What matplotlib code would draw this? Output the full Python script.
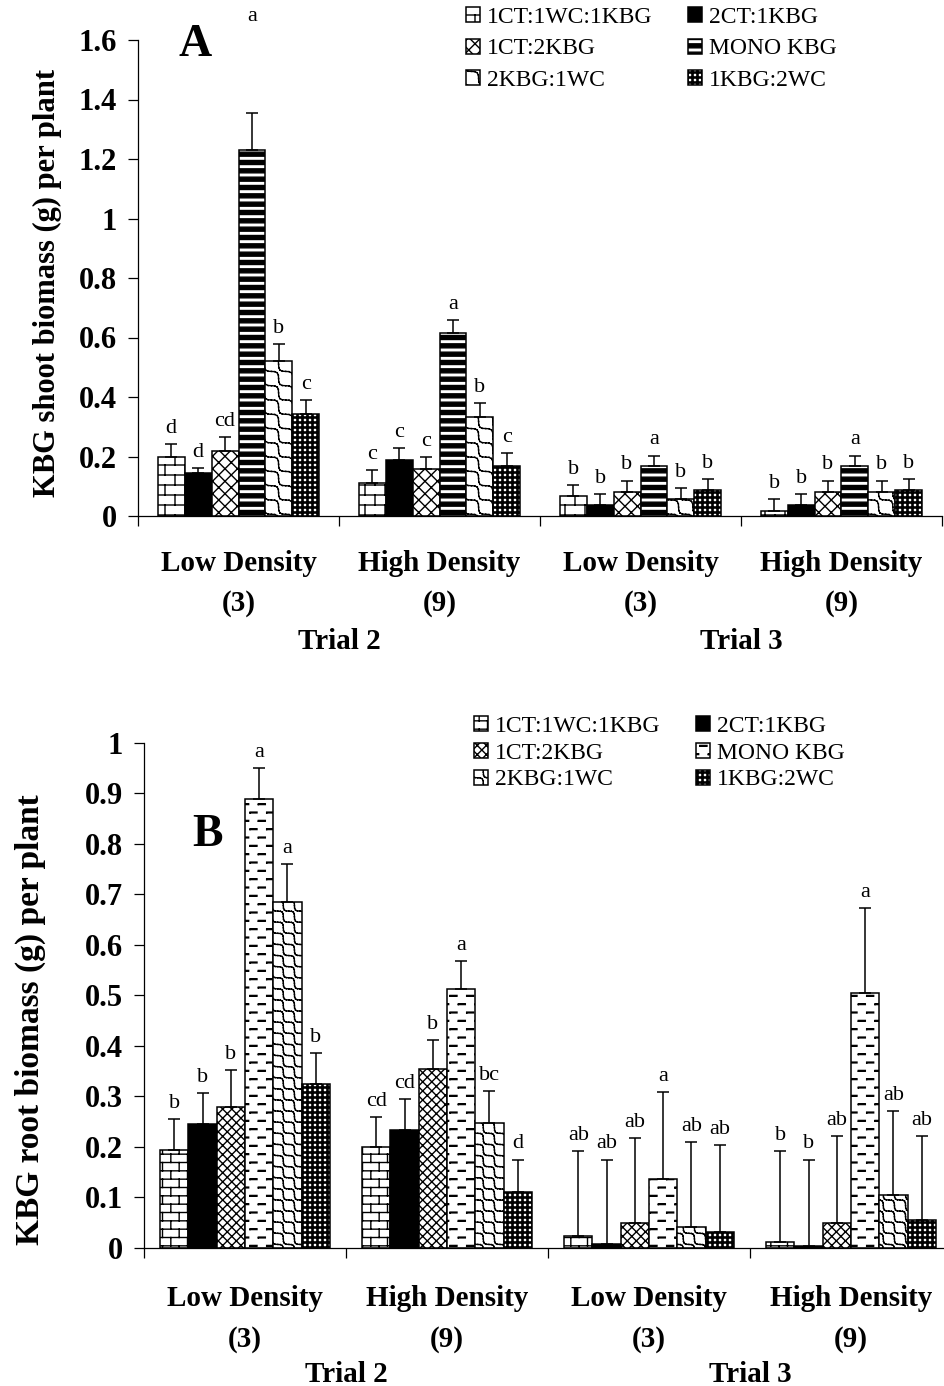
import numpy as np
import matplotlib
matplotlib.use("Agg")
import matplotlib.pyplot as plt
from matplotlib import hatch as mhatch
from matplotlib.path import Path

plt.rcParams["font.family"] = ["Liberation Serif", "DejaVu Serif"]
plt.rcParams["hatch.linewidth"] = 1.0

GROUPS = [("Low Density", "(3)"), ("High Density", "(9)"),
          ("Low Density", "(3)"), ("High Density", "(9)")]
TRIALS = ["Trial 2", "Trial 3"]
SERIES = ["1CT:1WC:1KBG", "2CT:1KBG", "1CT:2KBG", "MONO KBG", "2KBG:1WC", "1KBG:2WC"]

# rows follow SERIES, columns follow GROUPS
shoot_mean = [
    [0.200, 0.112, 0.068, 0.018],
    [0.143, 0.188, 0.037, 0.037],
    [0.218, 0.157, 0.080, 0.080],
    [1.230, 0.614, 0.168, 0.168],
    [0.521, 0.334, 0.057, 0.080],
    [0.343, 0.168, 0.087, 0.087],
]
shoot_se = [
    [0.042, 0.043, 0.036, 0.038],
    [0.017, 0.040, 0.037, 0.037],
    [0.048, 0.040, 0.039, 0.039],
    [0.125, 0.045, 0.035, 0.035],
    [0.057, 0.045, 0.036, 0.039],
    [0.047, 0.043, 0.036, 0.036],
]
shoot_letters = [
    ["d", "c", "b", "b"],
    ["d", "c", "b", "b"],
    ["cd", "c", "b", "b"],
    ["a", "a", "a", "a"],
    ["b", "b", "b", "b"],
    ["c", "c", "b", "b"],
]

root_mean = [
    [0.193, 0.199, 0.023, 0.011],
    [0.245, 0.233, 0.007, 0.003],
    [0.279, 0.355, 0.050, 0.050],
    [0.889, 0.512, 0.137, 0.504],
    [0.684, 0.248, 0.042, 0.104],
    [0.325, 0.110, 0.031, 0.055],
]
root_se = [
    [0.062, 0.060, 0.168, 0.180],
    [0.061, 0.061, 0.168, 0.172],
    [0.073, 0.057, 0.168, 0.172],
    [0.060, 0.056, 0.172, 0.169],
    [0.076, 0.062, 0.168, 0.167],
    [0.061, 0.065, 0.172, 0.167],
]
root_letters = [
    ["b", "cd", "ab", "b"],
    ["b", "cd", "ab", "b"],
    ["b", "b", "ab", "ab"],
    ["a", "a", "a", "a"],
    ["a", "bc", "ab", "ab"],
    ["b", "d", "ab", "ab"],
]


# ---- fill patterns (unit square = one tile) ----
def _rect(x0, y0, x1, y1):
    return [(x0, y0), (x1, y0), (x1, y1), (x0, y1), (x0, y0)]


def brick_paths(n):
    rows, cols = (10, 5) if n == 1 else (12, 6)
    out = []
    for k in range(-1, rows):
        y0 = (k + 0.5) / rows
        if k >= 0:
            out.append([(-0.1, y0), (1.1, y0)])
        shift = 0.5 if k % 2 else 0.0
        for j in range(-1, cols + 1):
            x = (j + 0.25 + shift) / cols
            out.append([(x, y0), (x, y0 + 1.0 / rows)])
    return out


def cross_paths(n):
    lines = 8 if n == 1 else 11
    out = []
    for k in range(-lines - 1, 2 * lines + 2):
        c = (k + 0.5) / lines
        out.append([(-0.2, -0.2 + c), (1.2, 1.2 + c)])
        out.append([(-0.2, 0.2 + c), (1.2, -1.2 + c)])
    return out


def wave_paths(n):
    lines = 7 if n == 1 else 9
    amp = 0.22 / lines
    step = 1.0 / (lines * 8)
    xs = np.arange(int(-0.2 / step), int(1.2 / step) + 1) * step
    off = amp * np.sin(2 * np.pi * lines * xs) / np.sqrt(2)
    out = []
    for k in range(-3, 2 * lines + 3):
        c = k / lines
        px, py = xs + off, -xs + c + off
        for a in range(len(xs) - 1):
            out.append([(px[a], py[a]), (px[a + 1], py[a + 1])])
    return out


def stripe_paths(n):
    rows = 12
    h = 0.04
    return [_rect(-0.1, (k + 0.5) / rows - h / 2, 1.1, (k + 0.5) / rows + h / 2)
            for k in range(rows)]


def dash_paths(n):
    rows, cols = 12, 6
    out = []
    for k in range(rows):
        y = (k + 0.5) / rows
        shift = 0.5 if k % 2 else 0.0
        for j in range(-1, cols + 1):
            x = (j + shift) / cols
            out.append(_rect(x, y - 0.004, x + 0.07, y + 0.004))
    return out


def grid_paths(n):
    cells, t = 20, 0.012
    out = []
    for k in range(cells):
        p = (k + 0.5) / cells - t / 2
        out.append(_rect(-0.1, p, 1.1, p + t))
        out.append(_rect(p, -0.1, p + t, 1.1))
    return out


def make_pattern(char, build):
    class Pattern(mhatch.HatchPatternBase):
        def __init__(self, hatch, density):
            n = hatch.count(char)
            self.paths = build(n) if n else []
            self.num_vertices = sum(len(p) for p in self.paths)

        def set_vertices_and_codes(self, vertices, codes):
            i = 0
            for p in self.paths:
                k = len(p)
                vertices[i:i + k] = p
                codes[i] = Path.MOVETO
                codes[i + 1:i + k] = Path.LINETO
                i += k
    return Pattern


mhatch._hatch_types[:] = [
    make_pattern("x", cross_paths),
    make_pattern("o", brick_paths), make_pattern("O", wave_paths),
    make_pattern("*", stripe_paths), make_pattern(".", dash_paths),
    make_pattern("+", grid_paths),
]

HATCH_A = ["o", None, "x", "*", "O", "+"]
HATCH_B = ["oo", None, "xx", ".", "OO", "+"]


def draw_panel(ax, means, errs, letters, hatches, width, lifts):
    x = np.arange(len(GROUPS))
    n = len(SERIES)
    bars = []
    for i, name in enumerate(SERIES):
        xi = x + (i - (n - 1) / 2) * width
        face = "black" if hatches[i] is None else "white"
        b = ax.bar(xi, means[i], width, color=face, edgecolor="black",
                   linewidth=1.1, hatch=hatches[i], label=name)
        bars.append(b)
        ax.errorbar(xi, means[i], yerr=[np.zeros(len(x)), errs[i]], fmt="none",
                    ecolor="black", elinewidth=1.1, capsize=4.5, capthick=1.1)
        for g, (xx, m, e, lab) in enumerate(zip(xi, means[i], errs[i], letters[i])):
            ax.annotate(lab, (xx, m + e), xytext=(0, lifts.get((i, g), 8)),
                        textcoords="offset points", ha="center", va="baseline",
                        fontsize=16)
    ax.set_xlim(-0.5, len(GROUPS) - 0.5)
    ax.set_xticks(np.arange(len(GROUPS) + 1) - 0.5)
    ax.set_xticklabels([])
    ax.spines[["top", "right"]].set_visible(False)
    for s in ("left", "bottom"):
        ax.spines[s].set_linewidth(0.9)
    ax.tick_params(axis="x", direction="out", length=7, width=0.9)
    ax.tick_params(axis="y", direction="out", length=7, width=0.9, pad=8,
                   labelsize=22)
    return bars


def group_labels(ax, offs):
    tr = ax.get_xaxis_transform()
    for g, (top, bottom) in enumerate(GROUPS):
        ax.annotate(top, (g, 0), xycoords=tr, xytext=(0, -offs[0]),
                    textcoords="offset points", ha="center", va="center",
                    fontsize=21, fontweight="bold", annotation_clip=False)
        ax.annotate(bottom, (g, 0), xycoords=tr, xytext=(0, -offs[1]),
                    textcoords="offset points", ha="center", va="center",
                    fontsize=21, fontweight="bold", annotation_clip=False)
    for t, name in enumerate(TRIALS):
        ax.annotate(name, (2 * t + 0.5, 0), xycoords=tr, xytext=(0, -offs[2]),
                    textcoords="offset points", ha="center", va="center",
                    fontsize=21, fontweight="bold", annotation_clip=False)


def add_legend(fig, bars, anchor, spacing):
    order = [0, 2, 4, 1, 3, 5]
    fig.legend([bars[i] for i in order], [SERIES[i] for i in order], ncol=2,
               loc="upper left", bbox_to_anchor=anchor, frameon=False,
               fontsize=17, handlelength=0.6, handleheight=0.6,
               handletextpad=0.3, columnspacing=1.5, labelspacing=spacing,
               borderpad=0, borderaxespad=0)


W, H = 945, 1386
fig = plt.figure(figsize=(W / 100, H / 100), dpi=100)

# shoot biomass
axA = fig.add_axes([138 / W, 1 - 516 / H, 804 / W, 476 / H])
bars_a = draw_panel(axA, shoot_mean, shoot_se, shoot_letters, HATCH_A, 0.134,
                    {(3, 0): 66})
axA.set_ylim(0, 1.6)
axA.set_yticks([0, 0.2, 0.4, 0.6, 0.8, 1.0, 1.2, 1.4, 1.6])
axA.set_yticklabels(["0", "0.2", "0.4", "0.6", "0.8", "1", "1.2", "1.4", "1.6"],
                    fontweight="bold")
group_labels(axA, (34, 63, 90))
add_legend(fig, bars_a, (466 / W, 1 - 7 / H), 0.44)
fig.text(195 / W, 1 - 45 / H, "A", fontsize=33, fontweight="bold",
         ha="center", va="center")
fig.text(47 / W, 1 - 283 / H, "KBG shoot biomass (g) per plant", rotation=90,
         fontsize=22, fontweight="bold", ha="center", va="center")

# root biomass
axB = fig.add_axes([144 / W, 1 - 1248 / H, 808 / W, 505.3 / H])
bars_b = draw_panel(axB, root_mean, root_se, root_letters, HATCH_B, 0.14, {})
axB.set_ylim(0, 1.0)
axB.set_yticks(np.arange(0, 1.01, 0.1))
axB.set_yticklabels(["0", "0.1", "0.2", "0.3", "0.4", "0.5", "0.6", "0.7",
                     "0.8", "0.9", "1"], fontweight="bold")
group_labels(axB, (36, 66, 91))
add_legend(fig, bars_b, (474 / W, 1 - 716 / H), 0.24)
fig.text(208 / W, 1 - 835 / H, "B", fontsize=33, fontweight="bold",
         ha="center", va="center")
fig.text(30 / W, 1 - 1020 / H, "KBG root biomass (g) per plant", rotation=90,
         fontsize=24, fontweight="bold", ha="center", va="center")

fig.savefig("out.png", dpi=100)
